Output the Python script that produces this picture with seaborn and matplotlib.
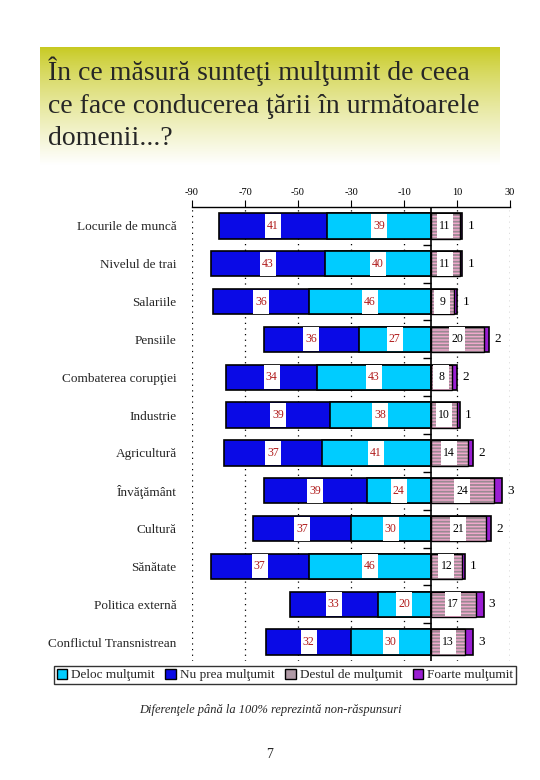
import matplotlib.pyplot as plt
import seaborn as sns
import numpy as np
import pandas as pd
from matplotlib.patches import Patch

# date
domenii = ['Locurile de muncă', 'Nivelul de trai', 'Salariile', 'Pensiile',
           'Combaterea corupţiei', 'Industrie', 'Agricultură', 'Învăţământ',
           'Cultură', 'Sănătate', 'Politica externă', 'Conflictul Transnistrean']
deloc = [39, 40, 46, 27, 43, 38, 41, 24, 30, 46, 20, 30]
nu_prea = [41, 43, 36, 36, 34, 39, 37, 39, 37, 37, 33, 32]
destul = [11, 11, 9, 20, 8, 10, 14, 24, 21, 12, 17, 13]
foarte = [1, 1, 1, 2, 2, 1, 2, 3, 2, 1, 3, 3]
ticks = [-90, -70, -50, -30, -10, 10, 30]

c_deloc = '#00ccff'
c_nuprea = '#0a0ae6'
c_destul = '#f0a8cc'
c_foarte = '#9a1ed2'

sns.set_theme(style='white')
plt.rcParams['font.family'] = ['Liberation Serif', 'DejaVu Serif']
plt.rcParams['hatch.linewidth'] = 1.3

df = pd.DataFrame({'dom': domenii, 'deloc': deloc, 'nu_prea': nu_prea,
                   'destul': destul, 'foarte': foarte})
df['stanga'] = -(df['deloc'] + df['nu_prea'])
df['dreapta'] = df['destul'] + df['foarte']

fig = plt.figure(figsize=(5.4, 7.8), dpi=100)

# caseta titlului cu gradient
axt = fig.add_axes([40 / 540, 1 - 165 / 780, 460 / 540, 118 / 780])
grad = np.linspace(0, 1, 256) ** 0.8
top = np.array([0.78, 0.79, 0.12])
img = top[None, :] * (1 - grad[:, None]) + np.ones(3)[None, :] * grad[:, None]
axt.imshow(img[:, None, :].repeat(2, axis=1), aspect='auto', extent=[0, 1, 0, 1])
axt.set_axis_off()
fig.text(48 / 540, 1 - 57 / 780,
         'În ce măsură sunteţi mulţumit de ceea\nce face conducerea ţării în următoarele\ndomenii...?',
         fontsize=20, ha='left', va='top', linespacing=1.38)

ax = fig.add_axes([192 / 540, 1 - 661 / 780, 318 / 540, 454 / 780])
ax.set_axisbelow(True)
bw = 0.67
kw = dict(orient='h', width=bw, linewidth=1.2, edgecolor='black', ax=ax)
sns.barplot(data=df, x='stanga', y='dom', color=c_nuprea, saturation=1, **kw)
sns.barplot(data=df, x=-df['deloc'], y='dom', color=c_deloc, saturation=1, **kw)
sns.barplot(data=df, x='dreapta', y='dom', color=c_foarte, saturation=1, **kw)
sns.barplot(data=df, x='destul', y='dom', color=c_destul, saturation=1,
            hatch='-----', orient='h', width=bw, linewidth=0, edgecolor='#9a8a92', ax=ax)
sns.barplot(data=df, x='destul', y='dom', fill=False, color='black', orient='h',
            width=bw, linewidth=1.0, ax=ax)

ax.set_xlim(-90, 30)
ax.set_ylim(len(domenii) - 0.5, -0.5)
ax.xaxis.tick_top()
ax.set_xticks(ticks)
ax.set_xticklabels([str(t) for t in ticks], fontsize=7.5)
ax.tick_params(axis='x', direction='out', length=5, width=0.8, pad=2, colors='black', top=True)
ax.grid(axis='x', linestyle=(0, (1, 3.5)), color='black', linewidth=0.9)
ax.set_xlabel('')
ax.set_ylabel('')
for s in ['left', 'right', 'bottom']:
    ax.spines[s].set_visible(False)
ax.spines['top'].set_color('black')
ax.spines['top'].set_linewidth(1.0)
ax.axvline(0, color='black', linewidth=1.2)
ax.tick_params(axis='y', length=0, pad=11)
ax.set_yticks(range(len(domenii)))
ax.set_yticklabels(domenii, fontsize=9.5)
ax.plot(np.zeros(len(domenii) - 1), np.arange(len(domenii) - 1) + 0.5,
        ls='none', marker=0, markersize=6, color='black', mew=1.0)

# etichete valori
box = [(-0.32, -0.5), (0.32, -0.5), (0.32, 0.5), (-0.32, 0.5)]
y = np.arange(len(domenii))
xs_blue = np.concatenate([-(df['deloc'] + df['nu_prea'] / 2), -df['deloc'] / 2])
ys_blue = np.concatenate([y, y])
vals_blue = list(nu_prea) + list(deloc)
ax.plot(xs_blue, ys_blue, ls='none', marker=box, markersize=17, color='white', mew=0)
for xv, yv, v in zip(xs_blue, ys_blue, vals_blue):
    ax.text(xv, yv, str(v), ha='center', va='center', fontsize=8.5, color='#b01c1c')
xs_p = df['destul'] / 2
ax.plot(xs_p, y, ls='none', marker=box, markersize=17, color='white', mew=0)
for xv, yv, v in zip(xs_p, y, destul):
    ax.text(xv, yv, str(v), ha='center', va='center', fontsize=8.5, color='black')
for xv, yv, v in zip(df['dreapta'], y, foarte):
    ax.text(xv + 2.0, yv, str(v), ha='left', va='center', fontsize=9.5, color='black')

handles = [Patch(facecolor=c_deloc, edgecolor='black', label='Deloc mulţumit'),
           Patch(facecolor=c_nuprea, edgecolor='black', label='Nu prea mulţumit'),
           Patch(facecolor='#b09aa6', edgecolor='black', label='Destul de mulţumit'),
           Patch(facecolor=c_foarte, edgecolor='black', label='Foarte mulţumit')]
leg = fig.legend(handles=handles, loc='center', bbox_to_anchor=(285 / 540, 1 - 675 / 780),
                 ncol=4, fontsize=9.5, frameon=True, fancybox=False, handlelength=0.8,
                 handleheight=0.8, handletextpad=0.3, columnspacing=0.8, borderpad=0.2,
                 borderaxespad=0)
leg.get_frame().set_edgecolor('black')
leg.get_frame().set_linewidth(1.0)

fig.text(0.5, 1 - 710 / 780, 'Diferenţele până la 100% reprezintă non-răspunsuri',
         ha='center', va='center', fontsize=9, style='italic')
fig.text(0.5, 1 - 755 / 780, '7', ha='center', va='center', fontsize=10)

fig.savefig('out.png', dpi=100)
